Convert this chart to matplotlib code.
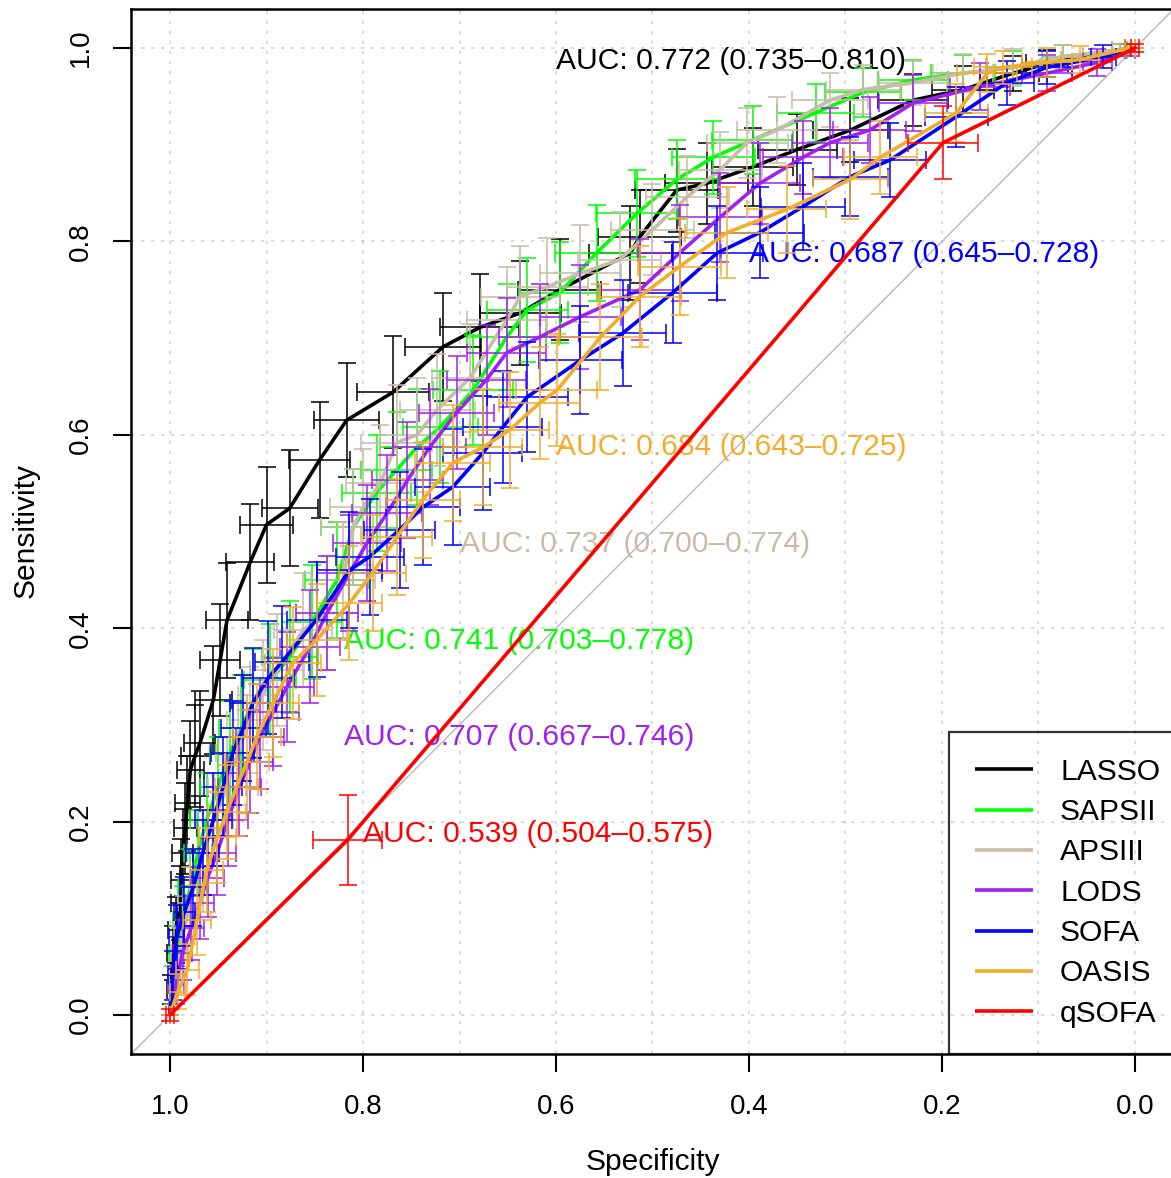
import matplotlib
matplotlib.use('Agg')
import matplotlib.pyplot as plt
from matplotlib.lines import Line2D

plt.rcParams['font.family'] = ['Liberation Sans', 'DejaVu Sans']

# ---------------- data ----------------
models = ['LASSO', 'SAPSII', 'APSIII', 'LODS', 'SOFA', 'OASIS', 'qSOFA']
colors = ['#000000', '#00FF00', '#C8BBA8', '#A020F0', '#0000FF', '#F2AD2A', '#FF0000']
auc_texts = ['AUC: 0.772 (0.735\u20130.810)', 'AUC: 0.741 (0.703\u20130.778)',
             'AUC: 0.737 (0.700\u20130.774)', 'AUC: 0.707 (0.667\u20130.746)',
             'AUC: 0.687 (0.645\u20130.728)', 'AUC: 0.684 (0.643\u20130.725)',
             'AUC: 0.539 (0.504\u20130.575)']
auc_x = [0.60, 0.82, 0.70, 0.82, 0.40, 0.60, 0.80]
auc_y = [0.987, 0.387, 0.487, 0.287, 0.787, 0.587, 0.187]

lasso_spec = [1.000, .999, .997, .994, .990, .989, .987, .984, .982, .979, .974, .969, .955, .948, .941, .917, .900, .876, .845, .817, .769, .717, .679, .637, .596, .523, .513, .475, .444, .396, .350, .295, .230, .178, .126, .091, .016, 0.0]
lasso_sens = [0.0, .026, .064, .088, .116, .140, .168, .193, .219, .253, .268, .281, .326, .367, .408, .468, .507, .524, .574, .615, .644, .691, .711, .726, .750, .788, .805, .853, .860, .877, .895, .915, .946, .957, .974, .984, .998, 1.0]
lasso_spec_ci = [0, .004, .006, .008, .009, .010, .011, .012, .013, .014, .015, .016, .019, .021, .022, .025, .027, .029, .032, .034, .037, .039, .041, .042, .043, .043, .043, .043, .043, .042, .041, .039, .036, .032, .027, .022, .008, 0]
lasso_sens_ci = [0, .015, .028, .034, .038, .042, .045, .047, .049, .051, .053, .054, .056, .058, .059, .060, .060, .060, .060, .059, .058, .056, .055, .054, .052, .049, .048, .043, .042, .040, .037, .033, .027, .024, .018, .014, .006, 0]

sapsii_spec = [1.0, .997, .993, .987, .979, .971, .962, .950, .938, .926, .914, .896, .876, .853, .827, .810, .786, .765, .744, .720, .686, .651, .630, .596, .558, .516, .475, .437, .396, .331, .282, .230, .178, .126, .075, .016, 0.0]
sapsii_sens = [0.0, .031, .064, .098, .132, .168, .202, .236, .271, .297, .323, .346, .370, .406, .450, .505, .540, .564, .587, .608, .646, .701, .729, .747, .788, .829, .864, .887, .905, .933, .954, .967, .974, .980, .991, .998, 1.0]
sapsii_spec_ci = [0, .005, .008, .010, .013, .015, .017, .019, .021, .023, .024, .027, .029, .031, .033, .034, .036, .037, .038, .039, .041, .041, .042, .042, .043, .043, .043, .043, .042, .040, .039, .036, .033, .028, .021, .008, 0]
sapsii_sens_ci = [0, .020, .028, .035, .040, .044, .048, .051, .054, .055, .056, .058, .058, .059, .060, .060, .060, .060, .060, .058, .057, .055, .054, .052, .050, .045, .041, .038, .035, .030, .025, .021, .019, .017, .012, .006, 0]

apsiii_spec = [1.0, .995, .990, .985, .979, .966, .954, .941, .930, .917, .904, .889, .862, .837, .821, .810, .800, .782, .765, .744, .723, .689, .651, .637, .609, .575, .534, .500, .464, .430, .402, .371, .316, .282, .230, .178, .126, .075, .016, 0.0]
apsiii_sens = [0.0, .031, .064, .090, .116, .168, .202, .236, .271, .305, .331, .357, .398, .416, .450, .505, .525, .550, .592, .600, .626, .659, .719, .743, .753, .767, .781, .812, .846, .874, .902, .915, .946, .957, .964, .974, .980, .991, .998, 1.0]
apsiii_spec_ci = [0, .006, .009, .011, .013, .016, .019, .020, .022, .024, .026, .028, .030, .032, .033, .034, .034, .036, .037, .038, .039, .040, .041, .041, .042, .042, .043, .043, .043, .043, .042, .041, .039, .038, .035, .031, .028, .021, .008, 0]
apsiii_sens_ci = [0, .020, .028, .033, .037, .044, .048, .051, .054, .055, .057, .058, .059, .059, .060, .060, .060, .060, .059, .059, .058, .056, .054, .052, .051, .050, .049, .047, .042, .039, .036, .034, .028, .025, .023, .020, .019, .012, .006, 0]

lods_spec = [1.0, .994, .987, .978, .969, .961, .951, .940, .928, .917, .907, .893, .879, .855, .837, .814, .796, .775, .754, .731, .703, .672, .651, .617, .575, .513, .472, .430, .389, .344, .316, .275, .230, .161, .091, .039, .005, 0.0]
lods_sens = [0.0, .031, .064, .090, .116, .142, .168, .202, .236, .262, .288, .313, .339, .381, .416, .457, .488, .519, .553, .587, .623, .657, .685, .701, .722, .750, .788, .825, .860, .887, .902, .915, .943, .960, .974, .985, .998, 1.0]
lods_spec_ci = [0, .008, .010, .013, .015, .017, .019, .021, .022, .024, .025, .027, .028, .031, .032, .034, .035, .036, .037, .038, .039, .041, .041, .042, .042, .043, .043, .043, .042, .041, .039, .038, .035, .031, .026, .015, .005, 0]
lods_sens_ci = [0, .020, .028, .033, .037, .041, .044, .048, .051, .053, .054, .056, .057, .058, .059, .060, .060, .060, .060, .060, .058, .057, .056, .055, .054, .052, .050, .046, .042, .038, .036, .034, .029, .024, .019, .014, .006, 0]

sofa_spec = [1.0, .997, .993, .985, .976, .966, .955, .945, .935, .924, .914, .898, .884, .848, .814, .793, .762, .738, .707, .676, .655, .630, .575, .531, .479, .433, .389, .344, .295, .254, .185, .133, .091, .033, .005, 0.0]
sofa_sens = [0.0, .041, .081, .107, .132, .168, .202, .236, .271, .297, .323, .349, .365, .409, .460, .474, .502, .525, .546, .581, .608, .639, .677, .705, .747, .788, .809, .836, .867, .884, .929, .964, .980, .991, 1.0, 1.0]
sofa_spec_ci = [0, .005, .008, .011, .014, .017, .019, .020, .022, .023, .024, .027, .028, .031, .034, .035, .037, .038, .039, .041, .041, .042, .043, .045, .046, .047, .046, .044, .039, .037, .033, .028, .026, .013, .005, 0]
sofa_sens_ci = [0, .025, .033, .036, .040, .044, .048, .051, .054, .055, .057, .058, .058, .059, .060, .060, .060, .060, .060, .059, .058, .057, .056, .055, .052, .049, .047, .045, .041, .038, .031, .023, .017, .012, .004, 0]

oasis_spec = [1.0, .992, .982, .972, .962, .951, .941, .931, .920, .910, .893, .873, .848, .814, .790, .765, .738, .707, .676, .648, .617, .599, .554, .513, .472, .423, .361, .295, .264, .185, .153, .137, .091, .057, .005, 0.0]
oasis_sens = [0.0, .024, .047, .098, .150, .184, .210, .236, .262, .288, .323, .364, .388, .426, .457, .494, .533, .571, .587, .605, .633, .646, .701, .743, .774, .809, .833, .864, .887, .933, .974, .980, .985, .988, 1.0, 1.0]
oasis_spec_ci = [0, .008, .012, .015, .017, .019, .020, .022, .023, .025, .027, .029, .031, .034, .035, .037, .038, .039, .041, .041, .042, .042, .043, .043, .043, .043, .041, .039, .038, .033, .031, .030, .026, .020, .005, 0]
oasis_sens_ci = [0, .018, .026, .036, .043, .047, .049, .051, .053, .054, .056, .058, .058, .059, .060, .060, .060, .060, .060, .060, .058, .058, .055, .052, .050, .047, .045, .041, .038, .030, .020, .017, .015, .014, .004, 0]

qsofa_spec = [1.0, 0.816, 0.199, 0.0]
qsofa_sens = [0.0, 0.181, 0.902, 1.0]
qsofa_spec_ci = [0.004, 0.036, 0.036, 0.004]
qsofa_sens_ci = [0.006, 0.047, 0.038, 0.004]

curves = [
    (lasso_spec, lasso_sens, lasso_spec_ci, lasso_sens_ci),
    (sapsii_spec, sapsii_sens, sapsii_spec_ci, sapsii_sens_ci),
    (apsiii_spec, apsiii_sens, apsiii_spec_ci, apsiii_sens_ci),
    (lods_spec, lods_sens, lods_spec_ci, lods_sens_ci),
    (sofa_spec, sofa_sens, sofa_spec_ci, sofa_sens_ci),
    (oasis_spec, oasis_sens, oasis_spec_ci, oasis_sens_ci),
    (qsofa_spec, qsofa_sens, qsofa_spec_ci, qsofa_sens_ci),
]

major_ticks = [1.0, 0.8, 0.6, 0.4, 0.2, 0.0]
tick_labels = ['1.0', '0.8', '0.6', '0.4', '0.2', '0.0']
vgrid = [1.0, 0.9, 0.8, 0.7, 0.6, 0.5, 0.4, 0.3, 0.2, 0.1, 0.0]
hgrid = [0.0, 0.2, 0.4, 0.6, 0.8, 1.0]

# ---------------- figure ----------------
W, H = 1171, 1178
fig = plt.figure(figsize=(W / 100, H / 100), dpi=100)
left, right, top, bottom = 131.4, 1173.6, 9.3, 1053.7
ax = fig.add_axes([left / W, (H - bottom) / H, (right - left) / W, (bottom - top) / H])
ax.set_xlim(1.04, -0.04)
ax.set_ylim(-0.04, 1.04)

for g in vgrid:
    ax.axvline(g, color='#D3D3D3', lw=1.2, ls=(0, (2, 4)), zorder=0.5)
for g in hgrid:
    ax.axhline(g, color='#D3D3D3', lw=1.2, ls=(0, (2, 4)), zorder=0.5)

ax.axline((1.0, 0.0), (0.0, 1.0), color='#BEBEBE', lw=1.1, zorder=1)

for i, (name, col, (sp, se, spc, sec)) in enumerate(zip(models, colors, curves)):
    z = 2 + i
    ax.plot(sp, se, color=col, lw=2.6, zorder=z, solid_capstyle='butt')
    ax.errorbar(sp, se, xerr=spc, yerr=sec, fmt='none', ecolor=col,
                elinewidth=1.1, capsize=6.5, capthick=1.1, zorder=z + 0.1)
    ax.text(auc_x[i], auc_y[i], auc_texts[i], color=col, fontsize=21.6,
            ha='left', va='center', zorder=z + 0.2)

ax.set_xticks(major_ticks)
ax.set_xticklabels(tick_labels)
ax.set_yticks(major_ticks)
ax.set_yticklabels(tick_labels, rotation=90, va='center')
ax.tick_params(axis='both', length=13, width=1.5, labelsize=20, direction='out')
ax.tick_params(axis='x', pad=16)
ax.tick_params(axis='y', pad=14)
for s in ax.spines.values():
    s.set_linewidth(1.8)

ax.set_xlabel('Specificity', fontsize=21.5)
ax.set_ylabel('Sensitivity', fontsize=21.5)
ax.xaxis.set_label_coords(0.5, -0.1037)
ax.xaxis.label.set_va('center')
ax.yaxis.set_label_coords(-0.102, 0.501)
ax.yaxis.label.set_va('center')

handles = [Line2D([0], [0], color=c, lw=2.6, solid_capstyle='butt') for c in colors]
leg = ax.legend(handles, models, loc='lower right', bbox_to_anchor=(1.012, 0.0),
                borderaxespad=0, fontsize=21.6,
                frameon=True, fancybox=False, edgecolor='black', facecolor='none',
                handlelength=1.93, handletextpad=0.9,
                labelspacing=0.41, borderpad=0.87)
leg.get_frame().set_linewidth(1.6)
leg.set_zorder(20)

fig.savefig('out.png', dpi=100)
